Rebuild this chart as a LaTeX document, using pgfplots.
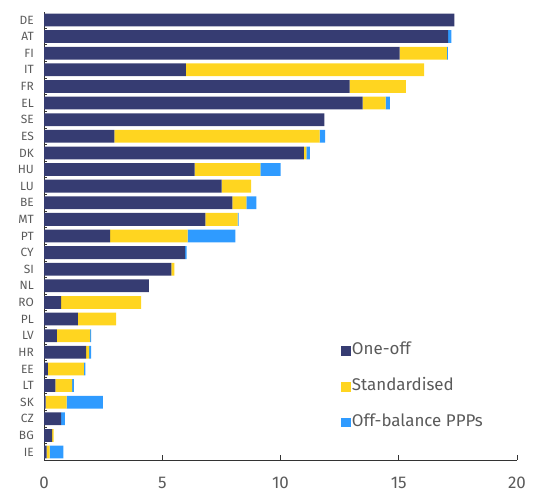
\documentclass[border=0pt]{standalone}
\usepackage{pgfplots}
\pgfplotsset{compat=1.18}
\usepackage{fontspec}
\setmainfont{Fira Sans}
\definecolor{oneoff}{HTML}{363C72}
\definecolor{stand}{HTML}{FFD520}
\definecolor{ppp}{HTML}{2F9BFF}
\definecolor{txt}{HTML}{5A5A5A}
\definecolor{axc}{HTML}{333333}
\begin{document}
\begin{tikzpicture}
\begin{axis}[
  scale only axis, width=473bp, height=448bp,
  xbar stacked, bar width=0.77,
  xmin=0, xmax=20, ymin=-0.48, ymax=26.48,
  axis lines*=left,
  axis line style={axc, line width=0.8bp},
  ytick={0,...,26},
  yticklabels={IE,BG,CZ,SK,LT,EE,HR,LV,PL,RO,NL,SI,CY,PT,MT,BE,LU,HU,DK,ES,SE,EL,FR,IT,FI,AT,DE},
  major y tick style={draw=none},
  minor ytick={-0.5,0.5,...,26.5},
  minor tick length=3bp,
  xtick={0,5,10,15,20},
  major tick length=5bp,
  tick align=inside,
  tick style={axc, line width=0.8bp},
  /pgf/number format/assume math mode=true,
  y tick label style={font=\fontsize{12}{14}\selectfont, text=txt, inner sep=0pt, xshift=-10bp},
  x tick label style={font=\fontsize{17}{20}\selectfont, text=txt, inner sep=0pt, yshift=-17bp},
  legend style={at={(rel axis cs:0.628,0.264)}, anchor=north west, draw=none, fill=none,
    inner sep=0pt, row sep=17.8bp,
    font=\fontsize{17}{20}\selectfont,
    nodes={text=txt, text height=12bp, text depth=4bp, inner sep=1bp}},
  legend cell align=left,
  legend image code/.code={\fill[#1] (0bp,-4.85bp) rectangle (9.7bp,4.85bp);},
]
\addplot[fill=oneoff, draw=none] coordinates {
(0.11,0) (0.34,1) (0.72,2) (0.07,3) (0.48,4) (0.16,5) (1.78,6) (0.54,7) (1.43,8) (0.72,9)
(4.43,10) (5.39,11) (5.97,12) (2.80,13) (6.82,14) (7.97,15) (7.51,16) (6.37,17) (10.99,18) (2.98,19)
(11.85,20) (13.47,21) (12.92,22) (6.00,23) (15.04,24) (17.09,25) (17.35,26)};
\addplot[fill=stand, draw=none] coordinates {
(0.13,0) (0.07,1) (0,2) (0.89,3) (0.71,4) (1.53,5) (0.13,6) (1.41,7) (1.62,8) (3.39,9)
(0,10) (0.12,11) (0,12) (3.27,13) (1.37,14) (0.59,15) (1.25,16) (2.78,17) (0.10,18) (8.67,19)
(0,20) (0.98,21) (2.38,22) (10.07,23) (1.99,24) (0,25) (0,26)};
\addplot[fill=ppp, draw=none] coordinates {
(0.58,0) (0,1) (0.16,2) (1.53,3) (0.07,4) (0.06,5) (0.08,6) (0.04,7) (0,8) (0,9)
(0,10) (0,11) (0.06,12) (2.02,13) (0.04,14) (0.42,15) (0,16) (0.85,17) (0.15,18) (0.24,19)
(0,20) (0.17,21) (0,22) (0,23) (0.05,24) (0.13,25) (0,26)};
\legend{One-off,Standardised,Off-balance PPPs}
\end{axis}
\path (current axis.south west) ++(-44bp,-36bp) rectangle ++(537bp,496bp);
\end{tikzpicture}
\end{document}
